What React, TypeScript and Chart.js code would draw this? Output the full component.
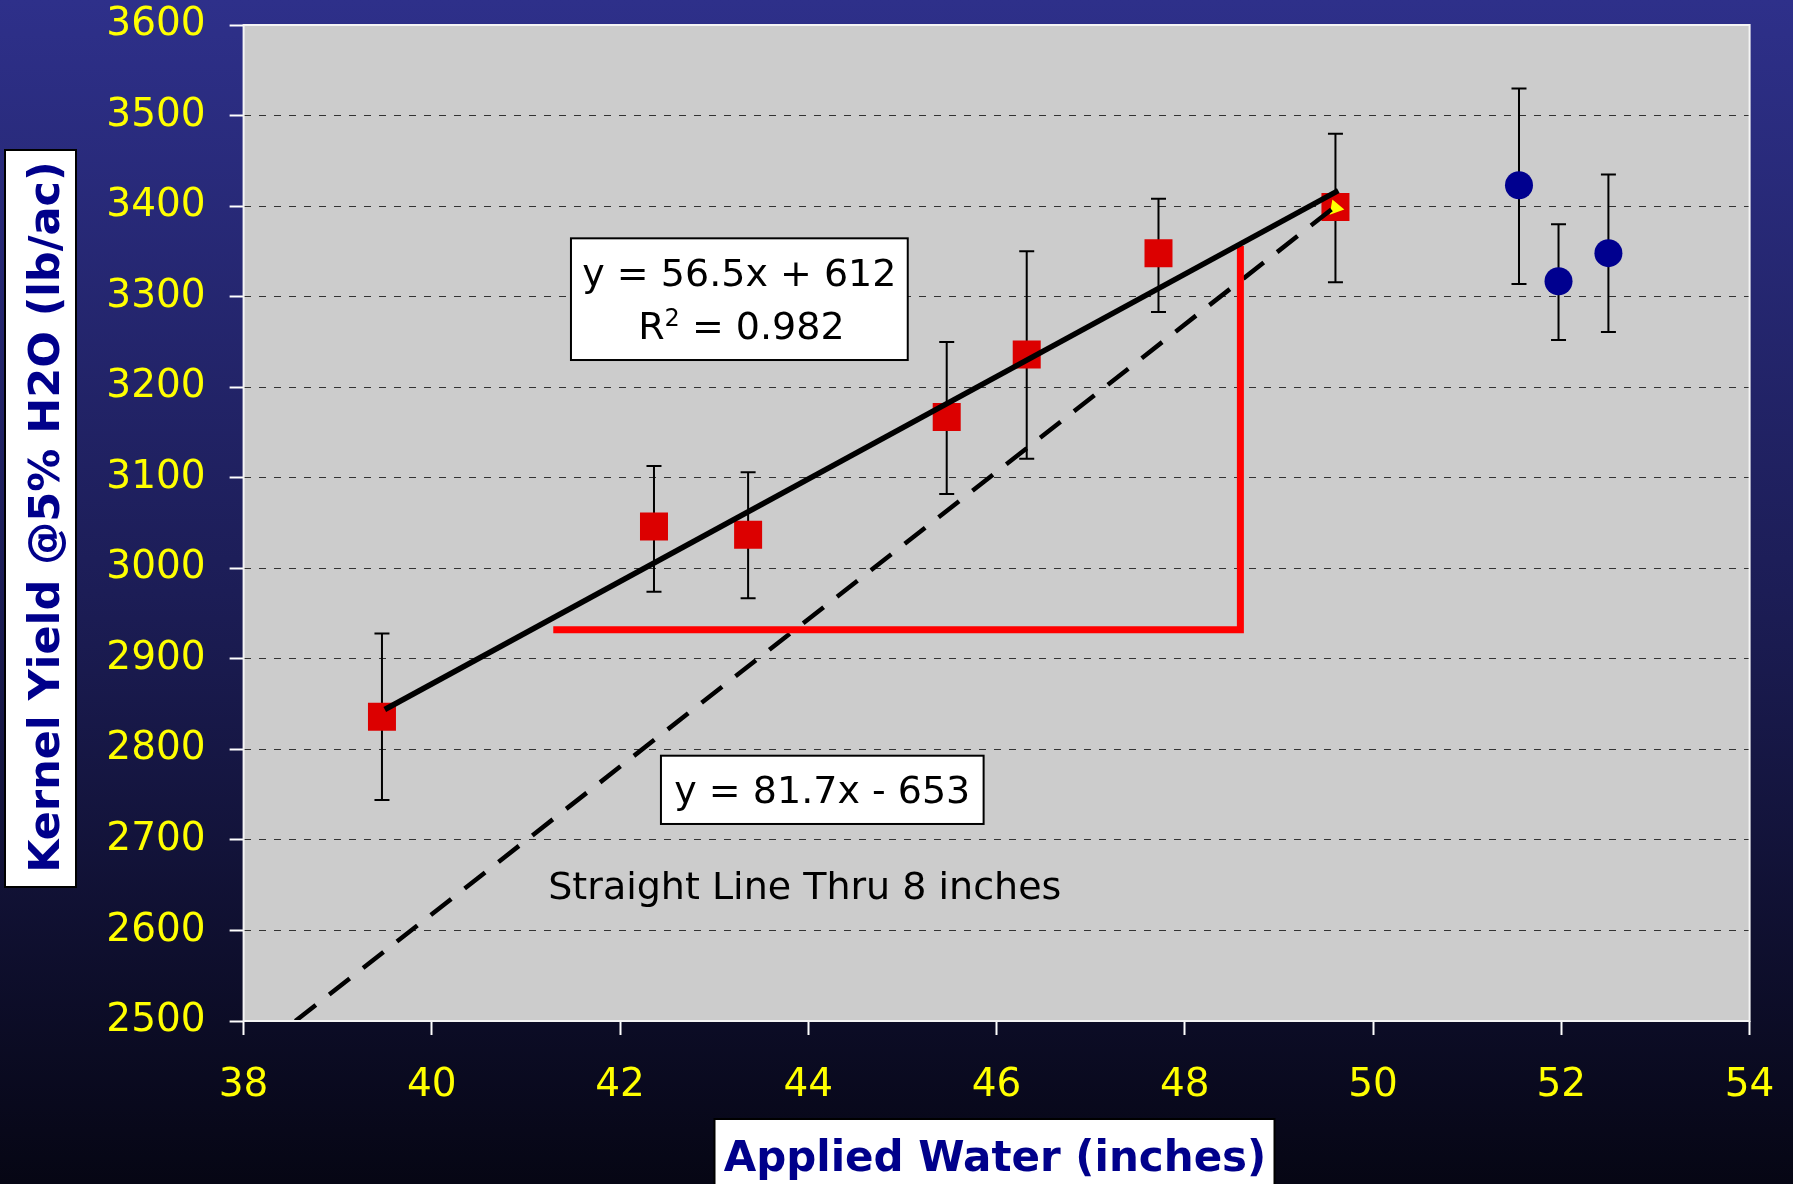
import { useEffect, useRef } from "react";
import { Chart, registerables } from "chart.js";

Chart.register(...registerables);

// ---- data ----
const squareX = [39.47, 42.36, 43.36, 45.47, 46.32, 47.72, 49.6];
const squareY = [2836, 3046, 3037, 3167, 3236, 3348, 3399];
const squareLow = [2744, 2974, 2967, 3082, 3121, 3283, 3316];
const squareHigh = [2928, 3113, 3106, 3250, 3350, 3408, 3480];

const circleX = [51.55, 51.97, 52.5];
const circleY = [3423, 3317, 3348];
const circleLow = [3314, 3252, 3261];
const circleHigh = [3530, 3380, 3435];

const triangleX = [49.6];
const triangleY = [3398];

const fitLineX = [39.5, 49.63];
const fitLineY = [2844, 3417];

const straightLineX = [38.55, 49.58];
const straightLineY = [2500, 3398];

const redLX = [41.29, 48.59, 48.59];
const redLY = [2932, 2932, 3356];

const xTickMin = 38;
const xTickMax = 54;
const xStep = 2;
const yTickMin = 2500;
const yTickMax = 3600;
const yStep = 100;

const fitLabel = "y = 56.5x + 612";
const r2Label = ["R", "2", " = 0.982"];
const straightLabel = "y = 81.7x - 653";
const noteLabel = "Straight Line Thru 8 inches";
const yTitle = "Kernel Yield @5% H2O (lb/ac)";
const xTitle = "Applied Water (inches)";

const FONT = "'DejaVu Sans', Verdana, sans-serif";

const pts = (xs: number[], ys: number[]) => xs.map((x, i) => ({ x, y: ys[i] }));

const bgPlugin = {
  id: "bg",
  beforeDraw(chart: any) {
    const { ctx, width, height, chartArea } = chart;
    ctx.save();
    const g = ctx.createLinearGradient(0, 0, 0, height);
    g.addColorStop(0, "rgb(46,48,138)");
    g.addColorStop(0.5, "rgb(28,29,86)");
    g.addColorStop(1, "rgb(6,6,20)");
    ctx.fillStyle = g;
    ctx.fillRect(0, 0, width, height);
    ctx.fillStyle = "#cccccc";
    ctx.fillRect(chartArea.left, chartArea.top, chartArea.right - chartArea.left, chartArea.bottom - chartArea.top);
    ctx.restore();
  },
};

const errorBarPlugin = {
  id: "errbars",
  beforeDatasetsDraw(chart: any) {
    const { ctx, scales } = chart;
    const xs = scales.x;
    const ys = scales.y;
    ctx.save();
    ctx.strokeStyle = "#000000";
    ctx.lineWidth = 2;
    const draw = (X: number[], L: number[], H: number[]) => {
      X.forEach((xv, i) => {
        const px = xs.getPixelForValue(xv);
        const pl = ys.getPixelForValue(L[i]);
        const ph = ys.getPixelForValue(H[i]);
        ctx.beginPath();
        ctx.moveTo(px, pl);
        ctx.lineTo(px, ph);
        ctx.moveTo(px - 7.5, pl);
        ctx.lineTo(px + 7.5, pl);
        ctx.moveTo(px - 7.5, ph);
        ctx.lineTo(px + 7.5, ph);
        ctx.stroke();
      });
    };
    draw(squareX, squareLow, squareHigh);
    draw(circleX, circleLow, circleHigh);
    ctx.restore();
  },
};

const annotPlugin = {
  id: "annot",
  afterDraw(chart: any) {
    const { ctx, scales, chartArea } = chart;
    const xs = scales.x;
    const ys = scales.y;
    ctx.save();

    // plot border
    ctx.strokeStyle = "#f4f4f4";
    ctx.lineWidth = 2;
    ctx.strokeRect(chartArea.left, chartArea.top, chartArea.right - chartArea.left, chartArea.bottom - chartArea.top);

    const box = (x0: number, y0: number, x1: number, y1: number) => {
      const l = xs.getPixelForValue(x0);
      const r = xs.getPixelForValue(x1);
      const t = ys.getPixelForValue(y0);
      const b = ys.getPixelForValue(y1);
      ctx.fillStyle = "#ffffff";
      ctx.fillRect(l, t, r - l, b - t);
      ctx.strokeStyle = "#000000";
      ctx.lineWidth = 2;
      ctx.strokeRect(l, t, r - l, b - t);
      return { l, r, t, b, cx: (l + r) / 2 };
    };

    // fit equation box
    const b1 = box(41.478, 3364.4, 45.056, 3230.0);
    ctx.fillStyle = "#000000";
    ctx.textBaseline = "alphabetic";
    ctx.textAlign = "center";
    ctx.font = `38px ${FONT}`;
    ctx.fillText(fitLabel, b1.cx, b1.t + 47.4);
    // R^2 line
    ctx.font = `38px ${FONT}`;
    const wR = ctx.measureText(r2Label[0]).width;
    const wRest = ctx.measureText(r2Label[2]).width;
    ctx.font = `24px ${FONT}`;
    const wSup = ctx.measureText(r2Label[1]).width;
    const total = wR + wSup + wRest;
    let sx = b1.cx + 2 - total / 2;
    const base2 = b1.t + 100.7;
    ctx.textAlign = "left";
    ctx.font = `38px ${FONT}`;
    ctx.fillText(r2Label[0], sx, base2);
    sx += wR;
    ctx.font = `24px ${FONT}`;
    ctx.fillText(r2Label[1], sx, base2 - 13.5);
    sx += wSup;
    ctx.font = `38px ${FONT}`;
    ctx.fillText(r2Label[2], sx, base2);

    // straight line equation box
    const b2 = box(42.434, 2793, 45.862, 2717.6);
    ctx.fillStyle = "#000000";
    ctx.textAlign = "center";
    ctx.font = `38px ${FONT}`;
    ctx.fillText(straightLabel, b2.cx, b2.t + 47.6);

    // note
    ctx.fillText(noteLabel, xs.getPixelForValue(43.962), ys.getPixelForValue(2634.4));

    // y title box
    ctx.fillStyle = "#ffffff";
    ctx.fillRect(5, 150, 71, 737);
    ctx.strokeStyle = "#000000";
    ctx.lineWidth = 2;
    ctx.strokeRect(5, 150, 71, 737);
    ctx.save();
    ctx.translate(58.5, 517);
    ctx.rotate(-Math.PI / 2);
    ctx.fillStyle = "#00008b";
    ctx.font = `bold 43px ${FONT}`;
    ctx.textAlign = "center";
    ctx.fillText(yTitle, 0, 0);
    ctx.restore();

    // x title box
    ctx.fillStyle = "#ffffff";
    ctx.fillRect(714.5, 1119, 560, 70);
    ctx.strokeStyle = "#000000";
    ctx.strokeRect(714.5, 1119, 560, 70);
    ctx.fillStyle = "#00008b";
    ctx.font = `bold 42px ${FONT}`;
    ctx.textAlign = "center";
    ctx.fillText(xTitle, 995, 1170.7);

    ctx.restore();
  },
};

export default function App() {
  const ref = useRef<HTMLCanvasElement>(null);
  useEffect(() => {
    const canvas = ref.current;
    if (!canvas) return;
    const tickFont = { family: FONT, size: 39 };
    const chart = new Chart(canvas, {
      type: "scatter",
      data: {
        datasets: [
          {
            label: "fit",
            data: pts(fitLineX, fitLineY),
            showLine: true,
            borderColor: "#000000",
            borderWidth: 5.5,
            pointRadius: 0,
            order: 0,
          },
          {
            label: "redL",
            data: pts(redLX, redLY),
            showLine: true,
            borderColor: "#ff0000",
            borderWidth: 7,
            pointRadius: 0,
            borderJoinStyle: "miter",
            order: 1,
          },
          {
            label: "straight",
            data: pts(straightLineX, straightLineY),
            showLine: true,
            borderColor: "#000000",
            borderWidth: 4.5,
            borderDash: [26, 17],
            borderCapStyle: "butt",
            pointRadius: 0,
            order: 2,
          },
          {
            label: "tri",
            data: pts(triangleX, triangleY),
            pointStyle: "triangle",
            pointRadius: 9,
            rotation: -20,
            backgroundColor: "#ffff00",
            borderWidth: 0,
            order: 3,
          },
          {
            label: "circles",
            data: pts(circleX, circleY),
            pointStyle: "circle",
            pointRadius: 14,
            backgroundColor: "#00008f",
            borderColor: "#00008f",
            borderWidth: 0,
            order: 4,
          },
          {
            label: "squares",
            data: pts(squareX, squareY),
            pointStyle: "rect",
            pointRadius: 19.8,
            backgroundColor: "#dc0000",
            borderColor: "#dc0000",
            borderWidth: 0,
            order: 5,
          },
        ],
      },
      options: {
        responsive: false,
        devicePixelRatio: 1,
        animation: false,
        events: [],
        layout: { padding: { left: 0, top: 25, right: 43.4, bottom: 0 } },
        plugins: { legend: { display: false }, tooltip: { enabled: false } },
        scales: {
          x: {
            type: "linear",
            min: xTickMin,
            max: xTickMax,
            ticks: { stepSize: xStep, color: "#ffff00", font: tickFont, padding: 27, maxRotation: 0, autoSkip: false,
              callback: (v: any) => String(v) },
            grid: { drawOnChartArea: false, drawTicks: true, tickLength: 14, tickColor: "#ffffff", tickWidth: 2, color: "#ffffff" },
            border: { display: false },
            afterFit(scale: any) {
              scale.height = 163;
              scale.paddingLeft = 0;
              scale.paddingRight = 0;
            },
          },
          y: {
            type: "linear",
            min: yTickMin,
            max: yTickMax,
            ticks: { stepSize: yStep, color: "#ffff00", font: tickFont, padding: 24, callback: (v: any) => String(v) },
            grid: { color: "#333333", lineWidth: 1, tickLength: 14, tickColor: "#ffffff", tickWidth: 2, tickBorderDash: [] },
            border: { display: false, dash: [7, 8] },
            afterFit(scale: any) {
              scale.width = 243.6;
              scale.paddingTop = 0;
              scale.paddingBottom = 0;
            },
          },
        },
      } as any,
      plugins: [bgPlugin, errorBarPlugin, annotPlugin],
    });
    return () => chart.destroy();
  }, []);
  return (
    <div style={{ position: "fixed", left: 0, top: 0, width: 1793, height: 1184 }}>
      <canvas ref={ref} width={1793} height={1184} style={{ width: 1793, height: 1184, display: "block" }} />
    </div>
  );
}
